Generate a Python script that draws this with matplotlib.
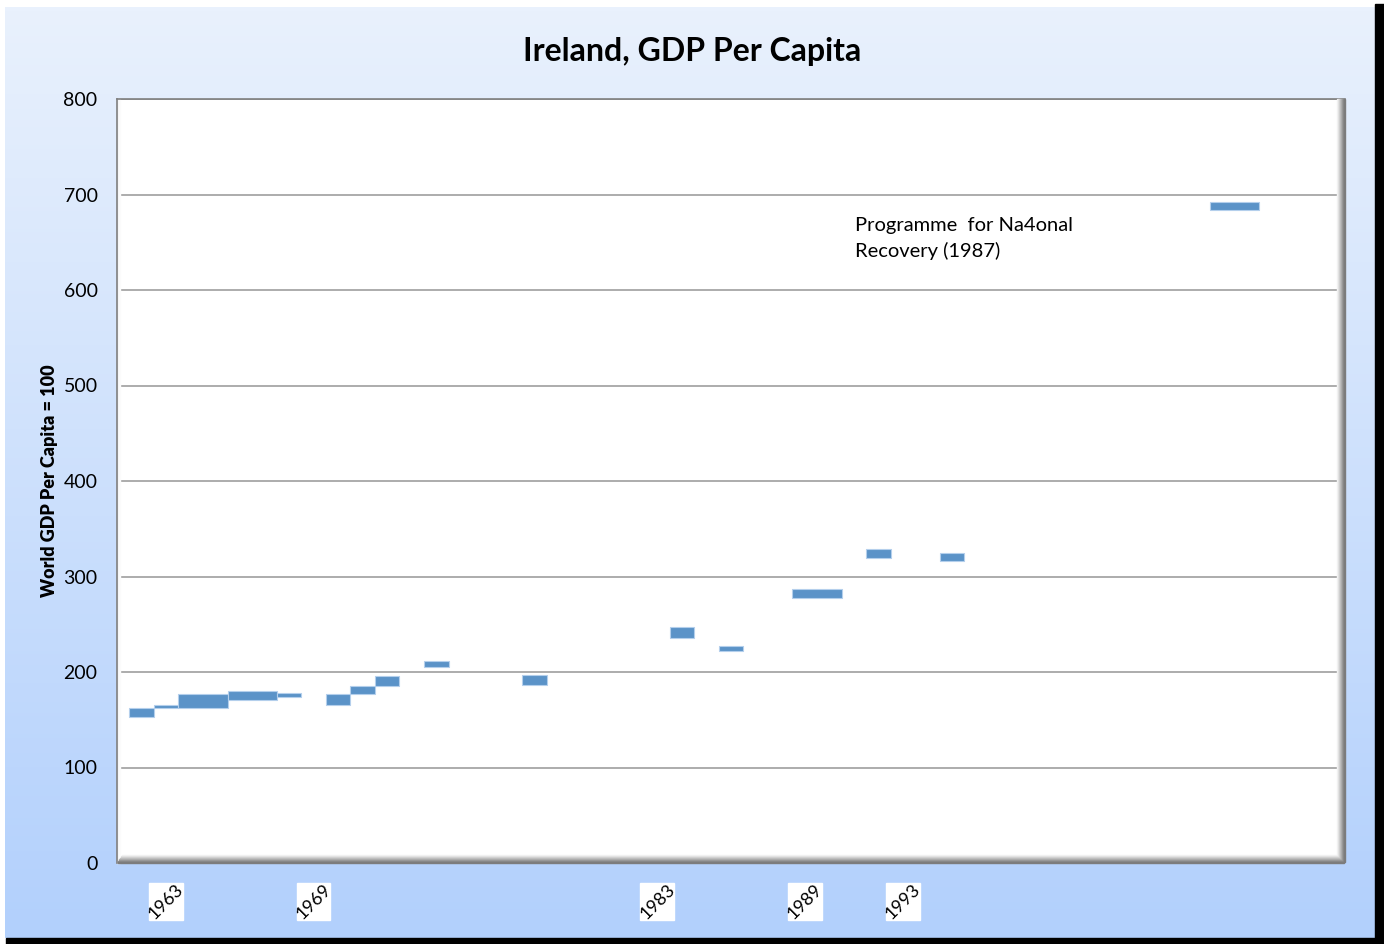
import matplotlib.pyplot as plt
import matplotlib.transforms as mtransforms
from matplotlib.patches import Rectangle
import numpy as np

plt.rcParams['font.family'] = ['Lato', 'DejaVu Sans']

# Data: each floating bar runs from seg_start to seg_end (years), between low and high
seg_start = [1961, 1962, 1963, 1965, 1967, 1969, 1970, 1971, 1973, 1977,
             1983, 1985, 1988, 1991, 1994, 2005]
seg_end = [1962, 1963, 1965, 1967, 1968, 1970, 1971, 1972, 1974, 1978,
           1984, 1986, 1990, 1992, 1995, 2007]
low = [153, 162, 162, 171, 174, 165, 177, 185, 205.5, 186.5,
       236, 222, 278, 319, 316, 683.5]
high = [162, 165, 177, 180, 178.5, 176.5, 185, 196, 211.5, 197,
        247, 227, 287, 328.5, 325, 692]
label_years = [1963, 1969, 1983, 1989, 1993]
y_ticks = [0, 100, 200, 300, 400, 500, 600, 700, 800]

W, H = 1384, 944
fig = plt.figure(figsize=(W / 100, H / 100), dpi=100, facecolor='white')

# black drop shadow on right / bottom
fig.patches.append(Rectangle((1375 / W, 0), 9 / W, 1 - 4 / H, transform=fig.transFigure,
                             color='black', zorder=0))
fig.patches.append(Rectangle((6 / W, 0), 1 - 6 / W, 6 / H, transform=fig.transFigure,
                             color='black', zorder=0))

# gradient panel
bg = fig.add_axes([5 / W, 6 / H, 1370 / W, 931 / H], zorder=-5)
top_c = np.array([233, 241, 253]) / 255
bot_c = np.array([178, 208, 252]) / 255
t = np.linspace(0, 1, 256)[:, None]
grad = top_c[None, :] * (1 - t) + bot_c[None, :] * t
bg.imshow(grad[:, None, :], aspect='auto', extent=[0, 1, 0, 1])
bg.set_axis_off()

ax = fig.add_axes([117 / W, 81 / H, 1228 / W, 764 / H])
ax.set_facecolor('white')

widths = [e - s for s, e in zip(seg_start, seg_end)]
heights = [h - l for l, h in zip(low, high)]
ax.bar(seg_start, heights, width=widths, bottom=low, align='edge',
       color='#5b93c8', edgecolor='#b4cfec', linewidth=0.8, zorder=3)

ax.set_xlim(1960.5, 2010.5)
ax.set_ylim(0, 800)
ax.set_yticks(y_ticks)
ax.set_yticklabels([str(v) for v in y_ticks], fontsize=14)
ax.tick_params(axis='y', length=0, pad=14)
ax.set_xticks([])
ax.yaxis.grid(True, color='#a6a6a6', linewidth=1.3, zorder=1)
ax.set_axisbelow(True)

for side in ['right', 'bottom']:
    ax.spines[side].set_visible(False)
ax.spines['left'].set_color('#7f7f7f')
ax.spines['top'].set_color('#7f7f7f')
ax.spines['left'].set_linewidth(1.2)
ax.spines['top'].set_linewidth(1.2)

# bevel shading on right and bottom edges
px = 1 / 1228
py = 1 / 764
shades = ['#f4f4f4', '#e6e6e6', '#d4d4d4', '#c2c2c2', '#b0b0b0', '#9c9c9c', '#8a8a8a', '#7c7c7c']
n = len(shades)
for i, c in enumerate(shades):
    ax.add_patch(Rectangle((1 - (n - i) * px, (n - i) * py), px, 1 - (n - i) * py,
                           transform=ax.transAxes, color=c, zorder=4, clip_on=False))
    ax.add_patch(Rectangle(((n - i) * px * 0.6, (n - i - 1) * py), 1 - (n - i) * px * 1.6, py,
                           transform=ax.transAxes, color=c, zorder=4, clip_on=False))
for i, c in enumerate(['#f0f0f0', '#f6f6f6', '#fbfbfb']):
    ax.add_patch(Rectangle((i * px, 0), px, 1, transform=ax.transAxes,
                           color=c, zorder=2, clip_on=False))

# x labels with white boxes
trans = mtransforms.blended_transform_factory(ax.transData, ax.transAxes)
for yr in label_years:
    ax.add_patch(Rectangle((yr - 1.19, -0.0746), 1.38, 0.0484, transform=trans,
                           color='white', zorder=5, clip_on=False))
    ax.text(yr - 0.5, -0.0504, str(yr), transform=trans, rotation=45,
            ha='center', va='center', rotation_mode='anchor', fontsize=13,
            zorder=6, clip_on=False)

fig.text(50 / W, 1 - 481 / H, 'World GDP Per Capita = 100', rotation=90,
         ha='center', va='center', fontsize=13, fontweight='heavy')

ax.text(1990.55, 654, 'Programme  for Na4onal\nRecovery (1987)', fontsize=14.5,
        ha='left', va='center', linespacing=1.55)

fig.text(0.5, 1 - 51 / H, 'Ireland, GDP Per Capita', ha='center', va='center',
         fontsize=23, fontweight='bold')

fig.savefig('out.png', dpi=100, facecolor=fig.get_facecolor())
